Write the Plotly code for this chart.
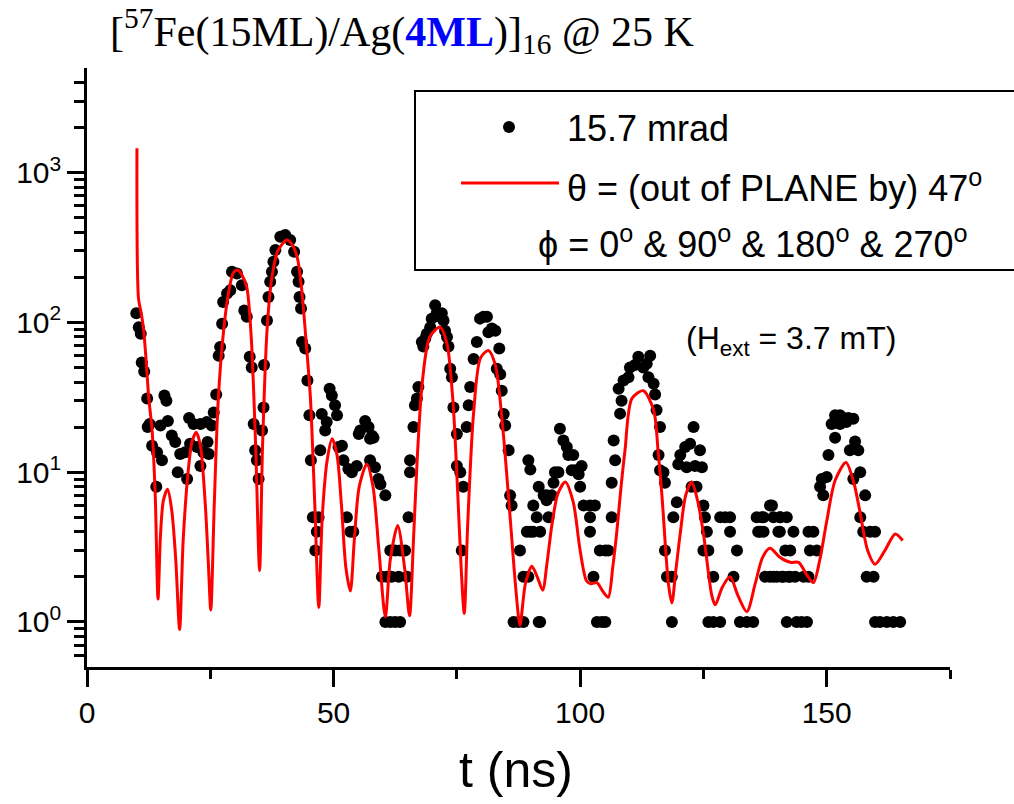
import plotly.graph_objects as go

# ---------------- data ----------------
t_obs = [10.0, 10.5, 10.9, 11.1, 11.6, 12.2, 12.3, 12.7, 13.2, 14.05, 14.2, 14.9, 15.2, 15.7, 16.1, 16.4,
         17.2, 17.9, 18.4, 18.9, 19.9, 20.3, 20.7, 20.9, 21.6, 22.3, 23.0, 23.0, 23.6, 24.3, 24.45, 24.7,
         25.3, 25.7, 26.2, 26.7, 27.0, 27.4, 27.6, 28.4, 29.05, 29.4, 30.4, 31.4, 31.9, 32.4, 33.0, 33.4,
         33.8, 34.1, 34.45, 34.8, 35.5, 35.8, 35.9, 36.5, 36.8, 37.15, 37.5, 37.8, 38.2, 39.2, 40.2, 41.2,
         42.0, 42.6, 42.9, 43.1, 43.4, 43.6, 44.25, 44.7, 45.1, 45.4, 45.8, 46.95, 46.6, 46.3, 47.3, 47.6,
         48.3, 48.6, 49.2, 49.65, 50.3, 50.7, 51.0,
         51.7, 52.0, 53.0, 53.7, 54.7, 52.7, 53.4, 54.0, 55.1, 55.4, 56.4, 57.1, 57.8, 58.1, 57.4, 57.4,
         58.4, 59.1, 59.5, 60.5, 59.8, 60.8, 61.8, 63.2, 64.9, 61.5, 62.5, 63.5, 64.5, 60.5, 61.5, 62.5,
         63.5, 65.2, 65.5, 65.5, 66.2, 66.5, 66.9, 67.2, 67.9, 68.2, 68.6, 68.9, 69.6, 69.9, 70.6, 70.9,
         71.6, 71.95, 72.3, 72.6, 73.0, 73.3, 73.65, 74.0, 74.3, 75.0, 75.0, 75.7, 76.3, 76.0, 77.0, 77.4,
         77.7, 78.4, 79.05, 79.7, 80.4, 81.1, 81.4, 82.1, 82.8, 83.6, 83.1, 83.8, 84.1, 84.5, 84.8, 85.5,
         85.8, 86.1, 87.8, 88.5, 89.5, 86.5, 87.5, 88.5, 91.6, 89.5, 89.9, 91.6, 92.6, 90.5, 91.2, 93.2,
         93.6, 89.2, 89.9, 90.5, 91.9,
         93.2, 94.25, 91.9, 94.9, 95.6, 94.6, 95.9, 96.6, 97.3, 97.6, 98.6, 98.3, 99.0, 99.7, 100.3, 100.0,
         100.7, 102.0, 103.0, 102.0, 102.0, 102.7, 103.4, 104.4, 105.1, 104.0, 105.1, 105.7, 106.4, 106.4,
         107.1, 106.8, 108.1, 108.4, 107.8, 108.8, 109.8, 110.1, 111.1, 111.8, 112.8, 113.5, 114.2, 113.85,
         114.9, 115.2, 115.5, 116.2, 115.9, 116.2, 116.9, 117.2, 117.2, 117.6, 118.6, 118.6, 118.9, 119.6,
         119.9, 120.3, 121.3, 121.6, 122.3, 123.0, 123.3, 124.3, 124.7, 122.6, 123.6, 125.0, 125.3, 125.7,
         125.0, 126.0, 127.0, 126.0, 127.0, 128.4, 128.4, 129.4, 130.4, 130.4, 131.8, 131.1, 132.4, 133.8,
         135.1, 135.8, 136.8, 138.5, 139.2, 140.5, 136.1, 137.2, 140.5, 141.9, 137.5, 138.5, 139.9, 141.2,
         142.2,
         136.5, 137.2, 138.9, 140.6, 139.2, 140.9, 142.6, 143.6, 145.3, 146.3, 141.9, 143.9, 144.9, 146.0,
         140.2, 143.25, 146.3, 147.3, 141.6, 142.6, 146.6, 148.0, 148.65, 149.3, 149.0, 150.0, 150.35, 151.7,
         151.0, 151.7, 152.7, 153.4, 154.4, 155.4, 152.7, 154.0, 154.7, 155.75, 156.4, 156.8, 155.4, 157.8,
         156.8, 157.4, 158.8, 159.8, 158.1, 159.5, 159.8, 160.8, 162.2, 163.5, 164.9]
n_obs = [115, 93, 84, 54, 47, 31, 20, 21, 15, 8, 13.6, 20.5, 12, 32.5, 30, 22,
         17.6, 15.9, 10, 13.2, 13.6, 9, 23, 15.5, 21, 14.7, 21, 11, 13.6, 21.6, 15.9, 13.2,
         20.5, 25, 33, 60, 68.5, 98, 137, 156, 164, 218, 212, 177, 120, 109, 59, 50,
         21, 14, 12, 9, 19, 27, 52, 103, 148, 187, 218, 254, 304, 373, 383, 355,
         296, 218, 187, 148, 124, 74, 67, 41, 24, 12, 5, 5, 4, 3, 14, 24.5,
         19, 21.6, 36, 32.5, 28, 24, 14.7,
         15, 12, 10.5, 10, 11, 5, 4, 4, 18, 19, 22, 20, 17.5, 17, 16.7, 12,
         10.8, 9, 8.3, 7, 2, 2, 2, 2, 2, 3, 3, 3, 3, 1, 1, 1,
         1, 5, 12, 10, 20, 28, 31, 37, 74, 69, 78, 84, 93, 106, 130, 115,
         109, 115, 103, 88, 80, 69, 49, 43, 27, 18, 11, 10, 8, 3, 20, 28,
         37, 57, 74, 106, 109, 109, 86, 91, 88, 67, 49, 45, 35, 24.5, 20.5, 14,
         7, 6, 3, 2, 2, 1, 1, 1, 1, 12, 10.4, 8, 7, 6, 5, 6.5,
         5, 4, 4, 4, 4,
         7, 7, 1, 10, 10, 8.5, 19.5, 16.3, 14.7, 13, 13, 10.3, 10.3, 9.7, 11, 8,
         6, 6, 6, 5, 4, 2, 1, 1, 1, 3, 3, 3, 5, 8.5,
         12, 16.3, 24.6, 30, 36, 41, 43, 50, 52, 59, 50, 53, 60, 43,
         39, 33, 26, 20, 13, 10.3, 10, 8.5, 3, 2, 2, 1, 5, 6.3,
         11.3, 13, 14.7, 10.8, 15.5, 20, 11, 14, 10.8, 8, 8, 6, 5, 4,
         3, 3, 2, 1, 1, 1, 5, 5, 5, 4, 3, 2, 1, 1,
         1, 5, 5, 6, 5, 5, 4, 4, 4, 5, 2, 2, 2, 2,
         2,
         4, 5, 6, 5, 2, 2, 2, 2, 2, 2, 1, 1, 1, 1,
         4, 4, 4, 4, 3, 3, 3, 3, 8, 7, 9, 9.3, 13, 17,
         21, 24, 24, 23, 23, 22.7, 21, 21.6, 14, 16, 14, 10, 9, 7,
         5, 4, 4, 4, 2, 2, 1, 1, 1, 1, 1]

t_fit = [10.13, 10.45, 11.0, 11.5, 12.0, 12.5, 13.2, 13.85, 14.4, 14.9,
         15.5, 16.35, 17.2, 18.0, 18.78, 19.5, 20.5, 21.3, 22.15, 23.0,
         24.0, 24.6, 25.1, 25.8, 26.6, 27.7, 28.8, 29.7, 30.6, 31.5,
         32.4, 33.3, 34.2, 35.0, 35.6, 36.5, 37.5, 38.7, 40.5, 41.5,
         42.6, 43.5, 44.5, 45.3, 46.2, 47.0, 47.7, 48.7, 49.7, 50.7,
         51.6, 52.5, 53.4, 54.2, 55.2, 56.75, 58.0, 59.2, 60.5, 61.5,
         63.0, 64.4, 65.4, 66.2, 67.0, 68.0, 69.5, 71.6, 73.0, 74.2,
         75.2, 75.9, 76.5, 77.2, 78.4, 79.8, 81.4, 82.8, 84.3, 85.8,
         87.0, 87.8, 88.9, 90.2, 91.3, 92.4, 93.3, 94.3, 95.5, 97.0,
         98.6, 100.0, 101.3, 102.2, 103.4, 104.6, 105.7, 106.6, 107.4, 108.3,
         109.1, 110.5, 112.8, 114.9, 115.8, 116.6, 117.9, 118.6, 119.4, 120.3,
         121.4, 122.6, 123.8, 125.0, 126.7, 127.4, 128.8, 130.4, 132.0, 133.8,
         135.5, 137.0, 138.5, 140.5, 142.6, 144.3, 146.0, 147.3, 148.6, 150.0,
         151.7, 153.9, 155.5, 156.8, 158.3, 159.8, 161.8, 163.9, 165.4]
i_fit = [1455, 144, 115, 88, 55, 32, 19, 6.8, 1.42, 3.8,
         6.5, 7.7, 5.5, 2.6, 0.89, 3.5, 10, 16, 18.5, 15,
         6, 2.5, 1.2, 6, 30, 88, 165, 215, 224, 205,
         172, 80, 15, 2.2, 15, 88, 200, 300, 355, 335,
         275, 170, 70, 31.7, 6, 1.25, 5, 12, 16.7, 13,
         6, 2.3, 1.61, 3.5, 8, 11.3, 8, 3, 1.08, 2.6,
         4.4, 2.3, 1.1, 3.5, 13, 40, 80, 93, 72, 30,
         7, 2.2, 1.14, 4.5, 25, 58, 65, 52, 20, 5,
         1.6, 0.95, 1.8, 2.35, 2.0, 1.63, 2.5, 4.5, 7.2, 8.6,
         6.3, 3.0, 1.88, 1.8, 1.83, 1.6, 1.46, 2.3, 3.9, 8,
         14, 31, 35, 26, 14, 6.9, 1.8, 1.34, 2.2, 3.9,
         7, 8.6, 6.5, 3.9, 1.5, 1.3, 1.7, 2.0, 1.5, 1.17,
         1.8, 2.7, 3.1, 2.7, 2.5, 2.5, 2.05, 1.83, 2.6, 4.7,
         8.8, 11.6, 8.5, 5.3, 3.0, 2.43, 3.0, 3.87, 3.5]

x_ticks = [0, 50, 100, 150]
y_ticks = [1, 10, 100, 1000]
y_ticktext = ["10<sup>0</sup>", "10<sup>1</sup>", "10<sup>2</sup>", "10<sup>3</sup>"]
y_minor = [0.6, 0.7, 0.8, 0.9, 2, 3, 4, 5, 6, 7, 8, 9, 20, 30, 40, 50, 60, 70, 80, 90,
           200, 300, 400, 500, 600, 700, 800, 900, 2000, 3000, 4000]

title_text = ('[<sup>57</sup>Fe(15ML)/Ag(<b><span style="color:#0000FF">4ML</span></b>)]'
              '<sub>16</sub> @ 25 K')
legend_1 = "15.7 mrad"
legend_2 = "\u03b8 = (out of PLANE by) 47<sup>o</sup>"
legend_3 = "\u03d5 = 0<sup>o</sup> & 90<sup>o</sup> & 180<sup>o</sup> & 270<sup>o</sup>"
field_text = "(H<sub>ext</sub> = 3.7 mT)"
x_title = "t (ns)"

# ---------------- layout geometry ----------------
W, H = 1014, 804
L, R, T, B = 87, 950, 68, 667


def px(x):
    return (x - L) / (R - L)


def py(y):
    return (B - y) / (B - T)


SANS = "Liberation Sans, Arial, sans-serif"
SERIF = "Liberation Serif, Times New Roman, serif"

fig = go.Figure()
fig.add_trace(go.Scatter(x=t_obs, y=n_obs, mode="markers",
                         marker=dict(color="black", size=12, line=dict(width=0)),
                         showlegend=False, cliponaxis=True))
fig.add_trace(go.Scatter(x=t_fit, y=i_fit, mode="lines",
                         line=dict(color="#FF0000", width=3, shape="spline", smoothing=0.8),
                         showlegend=False))

axis_common = dict(showline=True, linewidth=2.5, linecolor="black", showgrid=False,
                   zeroline=False, tickcolor="black", tickwidth=2.5, automargin=False)

fig.update_layout(
    width=W, height=H, autosize=False,
    margin=dict(l=L, r=W - R, t=T, b=H - B, pad=0, autoexpand=False),
    paper_bgcolor="white", plot_bgcolor="white",
    showlegend=False,
    xaxis=dict(range=[0, 175], tickmode="array", tickvals=x_ticks,
               ticks="outside", ticklen=17,
               minor=dict(dtick=25, tick0=0, ticks="outside", ticklen=9,
                          tickwidth=2.5, tickcolor="black"),
               tickfont=dict(family=SANS, size=30, color="black"),
               **axis_common),
    xaxis2=dict(range=[0, 175], overlaying="x", side="top", anchor="y",
                tickmode="array", tickvals=x_ticks, ticks="inside", ticklen=17,
                showticklabels=False,
                minor=dict(dtick=25, tick0=0, ticks="inside", ticklen=9,
                           tickwidth=2.5, tickcolor="black"),
                **axis_common),
    yaxis=dict(type="log", range=[-0.30103, 3.69897], tickmode="array",
               tickvals=y_ticks, ticktext=y_ticktext,
               ticks="outside", ticklen=17,
               minor=dict(tickmode="array", tickvals=y_minor, ticks="outside",
                          ticklen=10, tickwidth=2.5, tickcolor="black"),
               tickfont=dict(family=SANS, size=30, color="black"),
               **axis_common),
    yaxis2=dict(type="log", range=[-0.30103, 3.69897], overlaying="y", side="right",
                anchor="x", tickmode="array", tickvals=y_ticks, ticks="inside",
                ticklen=17, showticklabels=False,
                minor=dict(tickmode="array", tickvals=y_minor, ticks="inside",
                           ticklen=9, tickwidth=2.5, tickcolor="black"),
                **axis_common),
)

# legend box and its keys
fig.add_shape(type="rect", xref="paper", yref="paper",
              x0=px(415), x1=px(1030), y0=py(270), y1=py(91),
              line=dict(color="black", width=2), fillcolor="white", layer="above")
fig.add_shape(type="circle", xref="paper", yref="paper",
              x0=px(503), x1=px(515), y0=py(133), y1=py(121),
              line=dict(width=0), fillcolor="black", layer="above")
fig.add_shape(type="line", xref="paper", yref="paper",
              x0=px(461), x1=px(559), y0=py(183), y1=py(183),
              line=dict(color="#FF0000", width=3), layer="above")

ann = [
    dict(text=legend_1, x=px(565), y=py(128), size=36, family=SANS),
    dict(text=legend_2, x=px(565), y=py(186), size=36, family=SANS),
    dict(text=legend_3, x=px(536), y=py(242), size=36, family=SANS),
    dict(text=field_text, x=px(684), y=py(340), size=32, family=SANS),
    dict(text=title_text, x=px(108), y=py(31), size=42, family=SERIF),
]
for a in ann:
    fig.add_annotation(text=a["text"], x=a["x"], y=a["y"], xref="paper", yref="paper",
                       xanchor="left", yanchor="middle", showarrow=False,
                       font=dict(family=a["family"], size=a["size"], color="black"))

fig.add_annotation(text=x_title, x=px(516), y=py(770), xref="paper", yref="paper",
                   xanchor="center", yanchor="middle", showarrow=False,
                   font=dict(family=SANS, size=50, color="black"))

# the page's default 8 px body margin would shift the figure; remove it
fig.write_html("out.html", config={"displayModeBar": False},
               post_script="document.body.style.margin='0px';document.body.style.overflow='hidden';")
